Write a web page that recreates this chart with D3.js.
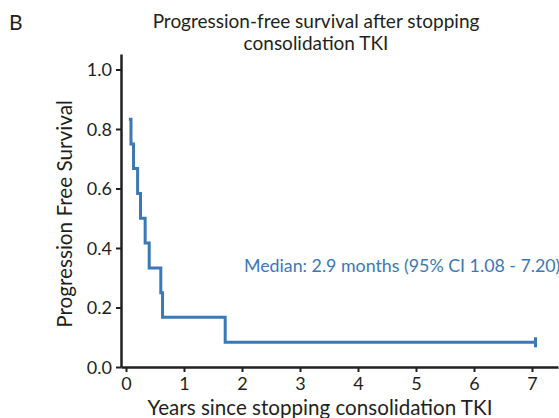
<!DOCTYPE html>
<html><head><meta charset="utf-8">
<script src="https://cdn.jsdelivr.net/npm/d3@7"></script>
<style>body{margin:0;background:#fff}svg{display:block}text{font-family:Lato,sans-serif;fill:#231f20}</style>
</head><body><svg id="c" width="559" height="418"></svg>
<script>
const times = [0.05, 0.086, 0.13, 0.2, 0.25, 0.33, 0.40, 0.60, 0.63, 1.71, 7.06];
const survival = [0.833, 0.75, 0.667, 0.583, 0.5, 0.417, 0.333, 0.25, 0.167, 0.083, 0.083];
const censorTimes = [7.06];
const censorSurv = [0.083];
const xTicks = [0,1,2,3,4,5,6,7];
const yTicks = [0,0.2,0.4,0.6,0.8,1.0];
const title = ["Progression-free survival after stopping", "consolidation TKI"];
const medianText = "Median: 2.9 months (95% CI 1.08 - 7.20)";

const svg = d3.select("#c");
const blue = "#3b78b7", dark = "#231f20";
const x = d3.scaleLinear().domain([-5/58, 432/58]).range([121, 558]);
const y = d3.scaleLinear().domain([0, 313/297.5]).range([367, 54]);

const xa = svg.append("g").attr("transform","translate(0,367)")
  .call(d3.axisBottom(x).tickValues(xTicks).tickFormat(d3.format("d")).tickSize(5).tickSizeOuter(0));
const ya = svg.append("g").attr("transform","translate(121,0)")
  .call(d3.axisLeft(y).tickValues(yTicks).tickFormat(d3.format(".1f")).tickSize(5).tickSizeOuter(0));
[xa, ya].forEach(a => {
  a.select(".domain").attr("stroke", dark).attr("stroke-width", 2.5);
  a.selectAll(".tick line").attr("stroke", dark).attr("stroke-width", 2);
  a.selectAll(".tick text").attr("font-size", 18).attr("font-family", "Lato").attr("fill", dark);
});
xa.selectAll(".tick text").attr("dy", "0.85em");
ya.selectAll(".tick text").attr("dx", "-1px").attr("dy", "0.35em");

const pts = times.map((t,i)=>[t, survival[i]]);
const line = d3.line().x(d=>x(d[0])).y(d=>y(d[1])).curve(d3.curveStepAfter);
svg.append("path").datum(pts).attr("d", line).attr("fill","none")
  .attr("stroke", blue).attr("stroke-width", 3);
svg.selectAll(".cens").data(censorTimes).join("line")
  .attr("x1", d=>x(d)).attr("x2", d=>x(d))
  .attr("y1", (d,i)=>y(censorSurv[i])-5).attr("y2", (d,i)=>y(censorSurv[i])+5)
  .attr("stroke", blue).attr("stroke-width", 3);

svg.append("text").attr("x", 244).attr("y", 272).attr("font-size", 17.8)
  .style("fill", blue).text(medianText);

svg.append("text").attr("x", 9).attr("y", 30).attr("font-size", 21).text("B");
title.forEach((t,i)=> svg.append("text").attr("x", 316).attr("y", 28 + i*22)
  .attr("text-anchor","middle").attr("font-size", 19).text(t));

svg.append("text").attr("x", 320).attr("y", 415).attr("text-anchor","middle")
  .attr("font-size", 20.6).text("Years since stopping consolidation TKI");
svg.append("text").attr("transform","translate(72,214) rotate(-90)").attr("text-anchor","middle")
  .attr("font-size", 20.7).text("Progression Free Survival");
</script></body></html>
